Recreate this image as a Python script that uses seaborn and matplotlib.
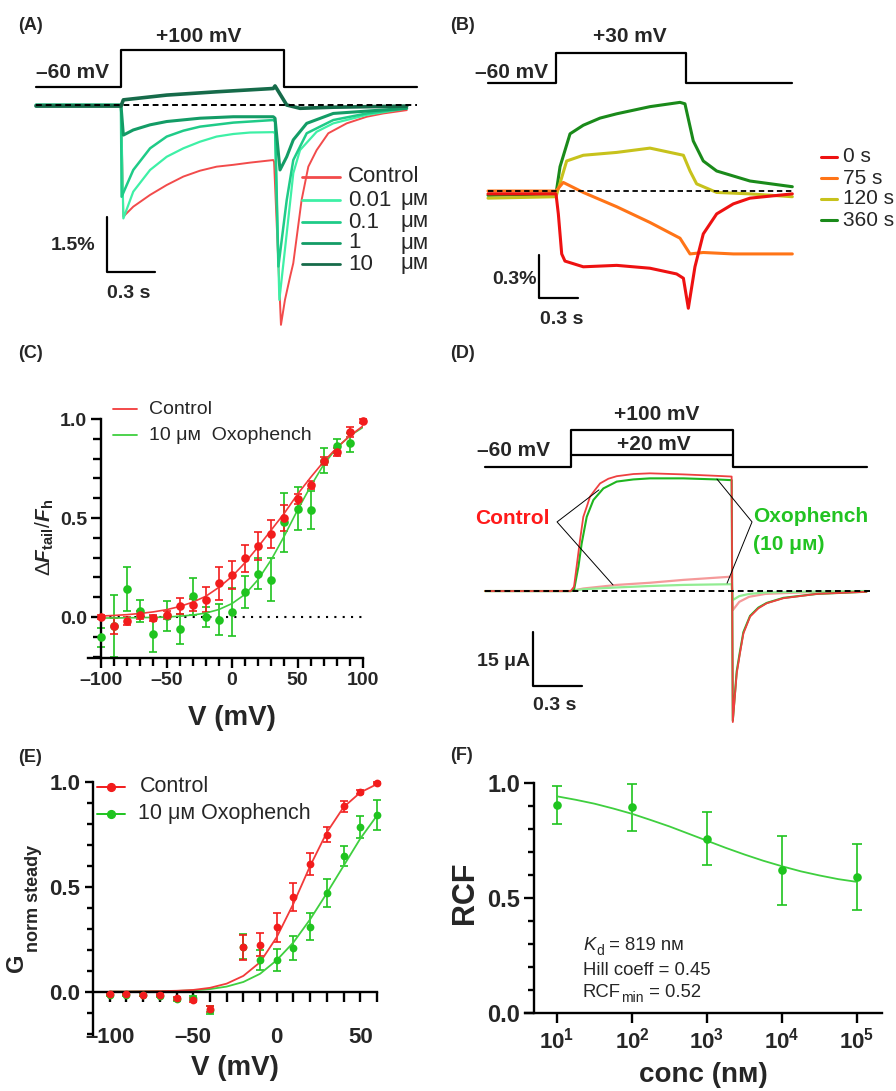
import numpy as np
import matplotlib
matplotlib.use("Agg")
import matplotlib.pyplot as plt
import matplotlib.transforms as mtransforms
from matplotlib.lines import Line2D
from matplotlib.ticker import FixedLocator, MultipleLocator, NullLocator
import seaborn as sns

# ---------------- data ----------------
# (A) fluorescence (%) vs time (s), +100 mV step, Oxophench doses
a_ctrl_t = [0, 0.531, 0.546, 0.608, 0.713, 0.817, 0.921, 1.025, 1.129, 1.233, 1.338, 1.483, 1.488,
            1.531, 1.556, 1.588, 1.608, 1.660, 1.702, 1.754, 1.827, 1.942, 2.067, 2.171, 2.317]
a_ctrl_v = [0, 0, -3.04, -2.77, -2.45, -2.18, -1.95, -1.79, -1.68, -1.63, -1.57, -1.50, -1.55,
            -5.99, -5.31, -4.68, -4.31, -2.59, -1.68, -1.23, -0.77, -0.50, -0.32, -0.23, -0.14]
a_001_t = [0, 0.531, 0.546, 0.608, 0.713, 0.817, 0.921, 1.025, 1.129, 1.233, 1.338, 1.483, 1.494,
           1.521, 1.567, 1.608, 1.650, 1.754, 1.858, 2.067, 2.317]
a_001_v = [0, 0, -3.09, -2.36, -1.77, -1.41, -1.18, -1.00, -0.86, -0.79, -0.75, -0.74, -0.77,
           -5.31, -3.50, -1.86, -1.23, -0.73, -0.50, -0.27, -0.09]
a_01_t = [0, 0.531, 0.535, 0.608, 0.713, 0.817, 0.921, 1.025, 1.233, 1.483, 1.494, 1.515, 1.567,
          1.608, 1.692, 1.858, 2.067, 2.317]
a_01_v = [0, 0, -2.50, -1.77, -1.18, -0.86, -0.70, -0.59, -0.48, -0.41, -0.45, -4.40, -2.59,
          -1.50, -0.77, -0.41, -0.23, -0.09]
a_1_t = [0, 0.531, 0.546, 0.608, 0.713, 0.817, 1.025, 1.233, 1.483, 1.494, 1.525, 1.567, 1.608,
         1.692, 1.858, 2.317]
a_1_v = [0, 0, -0.82, -0.68, -0.54, -0.45, -0.36, -0.32, -0.32, -0.36, -1.77, -1.41, -0.95,
         -0.50, -0.23, -0.09]
a_10_t = [0, 0.531, 0.546, 0.817, 1.129, 1.483, 1.494, 1.567, 1.650, 1.858, 2.317]
a_10_v = [-0.03, -0.03, 0.14, 0.27, 0.36, 0.45, 0.52, 0.0, -0.09, -0.06, -0.03]
a_labels = ["Control", "0.01", "0.1", "1", "10"]
a_step_t = [0, 0.531, 0.531, 1.552, 1.552, 2.38]
a_step_lvl = [0.49, 0.49, 1.5, 1.5, 0.49, 0.49]

# (B) fluorescence (%) vs time (s) at +30 mV, time after wash-in
b_0_t = [0, 0.523, 0.541, 0.567, 0.592, 0.733, 0.990, 1.246, 1.451, 1.503, 1.541, 1.592, 1.656,
         1.759, 1.887, 2.015, 2.341]
b_0_v = [-0.02, -0.02, -0.16, -0.44, -0.49, -0.53, -0.52, -0.54, -0.58, -0.61, -0.82, -0.53,
         -0.30, -0.16, -0.09, -0.05, -0.02]
b_75_t = [0, 0.523, 0.579, 0.733, 0.990, 1.246, 1.477, 1.554, 1.656, 1.887, 2.341]
b_75_v = [0.0, 0.0, 0.06, -0.01, -0.11, -0.22, -0.33, -0.44, -0.43, -0.44, -0.44]
b_120_t = [0, 0.523, 0.605, 0.733, 0.990, 1.246, 1.503, 1.554, 1.605, 1.759, 2.015, 2.341]
b_120_v = [-0.05, -0.04, 0.21, 0.25, 0.27, 0.30, 0.25, 0.14, 0.05, -0.01, -0.02, -0.04]
b_360_t = [0, 0.523, 0.554, 0.631, 0.733, 0.862, 0.990, 1.246, 1.477, 1.515, 1.579, 1.656, 1.759,
           2.015, 2.341]
b_360_v = [-0.03, -0.02, 0.17, 0.40, 0.46, 0.51, 0.54, 0.59, 0.62, 0.61, 0.35, 0.21, 0.14, 0.07, 0.03]
b_labels = ["0 s", "75 s", "120 s", "360 s"]
b_step_t = [0, 0.523, 0.523, 1.523, 1.523, 2.338]
b_step_lvl = [0.755, 0.755, 0.965, 0.965, 0.755, 0.755]

# (C) dF_tail/F_h vs V
c_volt = [-100, -90, -80, -70, -60, -50, -40, -30, -20, -10, 0, 10, 20, 30, 40, 50, 60, 70, 80, 90, 100]
c_ctrl = [0.00, -0.047, -0.022, 0.01, -0.005, 0.012, 0.054, 0.062, 0.088, 0.17, 0.212, 0.296, 0.357,
          0.421, 0.50, 0.596, 0.668, 0.788, 0.835, 0.936, 0.99]
c_ctrl_err = [0.01, 0.04, 0.02, 0.02, 0.015, 0.02, 0.04, 0.03, 0.065, 0.085, 0.07, 0.07, 0.07, 0.07,
              0.065, 0.025, 0.02, 0.02, 0.02, 0.025, 0.01]
c_oxo_volt = [-100, -90, -80, -70, -60, -50, -40, -30, -20, -10, 0, 10, 20, 30, 40, 50, 60, 70, 80, 90]
c_oxo = [-0.103, -0.045, 0.141, 0.03, -0.086, 0.005, -0.06, 0.104, 0.0, -0.013, 0.024, 0.125, 0.219,
         0.189, 0.478, 0.547, 0.539, 0.79, 0.865, 0.879]
c_oxo_err = [0.05, 0.155, 0.11, 0.055, 0.09, 0.075, 0.075, 0.095, 0.05, 0.077, 0.12, 0.08, 0.08, 0.11,
             0.15, 0.11, 0.095, 0.063, 0.035, 0.048]
c_fit_ctrl = [0.005, 0.008, 0.012, 0.018, 0.026, 0.037, 0.053, 0.075, 0.105, 0.15, 0.205, 0.275, 0.355,
              0.44, 0.525, 0.62, 0.705, 0.785, 0.855, 0.915, 0.965]
c_fit_oxo = [-0.005, -0.005, -0.004, -0.003, -0.002, 0.0, 0.004, 0.01, 0.02, 0.038, 0.068, 0.115, 0.19,
             0.29, 0.41, 0.54, 0.66, 0.77, 0.855, 0.915, 0.958]
c_xticks = [-100, -50, 0, 50, 100]
c_xticklabels = ["–100", "–50", "0", "50", "100"]

# (D) current (uA) vs time (s), +100 and +20 mV steps
d_c100_t = [0, 0.526, 0.546, 0.562, 0.583, 0.603, 0.624, 0.644, 0.675, 0.706, 0.757, 0.808, 0.910,
            1.012, 1.217, 1.421, 1.513, 1.520, 1.544, 1.564, 1.585, 1.626, 1.677, 1.728, 1.830, 2.035, 2.340]
d_c100_i = [0, 0, 1.2, 6.8, 14.2, 20.6, 23.4, 26.2, 28.1, 29.9, 31.2, 31.9, 32.5, 32.7, 32.4, 32.0,
            31.8, -36.4, -22.9, -17.3, -11.8, -7.1, -4.8, -3.4, -2.0, -0.8, -0.2]
d_o100_t = [0, 0.526, 0.546, 0.573, 0.593, 0.624, 0.665, 0.726, 0.808, 0.910, 1.012, 1.217, 1.421,
            1.513, 1.520, 1.544, 1.564, 1.585, 1.626, 1.677, 1.728, 1.830, 2.035, 2.340]
d_o100_i = [0, 0, 0.3, 6.8, 13.2, 20.6, 25.3, 28.5, 30.4, 31.0, 31.3, 31.3, 31.0, 30.8, -36.0, -22.3,
            -16.8, -11.4, -6.9, -4.6, -3.3, -1.9, -0.8, -0.2]
d_c20_t = [0, 0.526, 0.603, 0.808, 1.012, 1.217, 1.513, 1.520, 1.560, 1.620, 1.720, 1.930, 2.340]
d_c20_i = [0, 0, 0.7, 1.7, 2.3, 3.1, 4.0, -5.3, -3.0, -1.6, -0.8, -0.4, -0.1]
d_o20_t = [0, 0.526, 0.603, 0.808, 1.012, 1.217, 1.513, 1.520, 1.560, 1.620, 1.720, 1.930, 2.340]
d_o20_i = [0, 0, 0.5, 1.0, 1.4, 1.7, 1.9, -2.5, -1.4, -0.8, -0.4, -0.2, 0.0]
d_step_t = [0, 0.528, 0.528, 1.521, 1.521, 2.344]
d_step_lvl = [34.4, 34.4, 44.7, 44.7, 34.4, 34.4]
d_step20_lvl = 37.8

# (E) G_norm steady vs V
e_volt = [-100, -90, -80, -70, -60, -50, -40, -20, -10, 0, 10, 20, 30, 40, 50, 60]
e_ctrl = [-0.011, -0.011, -0.014, -0.016, -0.032, -0.04, -0.084, 0.212, 0.223, 0.306, 0.45, 0.61,
          0.748, 0.884, 0.954, 0.995]
e_ctrl_err = [0.005, 0.005, 0.005, 0.005, 0.008, 0.01, 0.015, 0.06, 0.055, 0.068, 0.066, 0.052,
              0.035, 0.026, 0.01, 0.005]
e_oxo = [-0.016, -0.016, -0.016, -0.019, -0.037, -0.032, -0.088, 0.215, 0.151, 0.151, 0.207, 0.31,
         0.47, 0.645, 0.785, 0.844]
e_oxo_err = [0.005, 0.005, 0.005, 0.005, 0.008, 0.01, 0.02, 0.06, 0.048, 0.053, 0.058, 0.064, 0.067,
             0.048, 0.054, 0.072]
e_fit_volt = [-100, -90, -80, -70, -60, -50, -40, -30, -20, -10, 0, 10, 20, 30, 40, 50, 60]
e_fit_ctrl = [0.0, 0.0, 0.001, 0.002, 0.004, 0.008, 0.018, 0.038, 0.075, 0.14, 0.26, 0.42, 0.60, 0.76,
              0.88, 0.95, 0.99]
e_fit_oxo = [0.0, 0.0, 0.001, 0.002, 0.003, 0.006, 0.012, 0.024, 0.046, 0.085, 0.15, 0.235, 0.345,
             0.47, 0.60, 0.73, 0.84]
e_xticks = [-100, -50, 0, 50]
e_xticklabels = ["–100", "–50", "0", "50"]

# (F) RCF vs concentration (nM)
f_conc = [1e1, 1e2, 1e3, 1e4, 1e5]
f_rcf = [0.906, 0.894, 0.758, 0.62, 0.591]
f_err = [0.083, 0.102, 0.114, 0.15, 0.142]
f_fit_logc = [1.0, 1.25, 1.5, 1.75, 2.0, 2.25, 2.5, 2.75, 3.0, 3.25, 3.5, 3.75, 4.0, 4.25, 4.5, 4.75, 5.0]
f_fit_rcf = [0.942, 0.927, 0.910, 0.889, 0.866, 0.839, 0.811, 0.780, 0.749, 0.718, 0.689, 0.662,
             0.638, 0.616, 0.598, 0.582, 0.570]
f_xticklabels = [r"$\mathbf{10^{1}}$", r"$\mathbf{10^{2}}$", r"$\mathbf{10^{3}}$",
                 r"$\mathbf{10^{4}}$", r"$\mathbf{10^{5}}$"]

# ---------------- style ----------------
sns.set_theme(style="ticks")
plt.rcParams["font.family"] = ["Liberation Sans", "DejaVu Sans"]
plt.rcParams["mathtext.fontset"] = "custom"
plt.rcParams["mathtext.rm"] = "Liberation Sans"
plt.rcParams["mathtext.it"] = "Liberation Sans:italic"
plt.rcParams["mathtext.bf"] = "Liberation Sans:bold"
if "mathtext.bfit" in plt.rcParams:
    plt.rcParams["mathtext.bfit"] = "Liberation Sans:bold:italic"

RED = "#f21c1c"
GREEN = "#1fc41f"
RED_FIT = "#f23a3a"
GREEN_FIT = "#3fcf3f"
A_COLORS = ["#f24b4b", "#3ef0a6", "#1fcb88", "#139c66", "#166b4a"]
B_COLORS = ["#ee1111", "#ff7417", "#c7c21c", "#1a8a1a"]

W, H = 896, 1091
fig = plt.figure(figsize=(W / 100, H / 100), dpi=100)
PX = mtransforms.Affine2D().scale(1 / W, -1 / H).translate(0, 1) + fig.transFigure


def axes_px(left, top, right, bottom):
    return fig.add_axes([left / W, 1 - bottom / H, (right - left) / W, (bottom - top) / H])


def label(x, y, s, size=14, weight="bold", **kw):
    kw.setdefault("va", "center")
    return fig.text(x, y, s, transform=PX, fontsize=size, fontweight=weight, **kw)


def key_line(x0, x1, y, color, lw=1.6, ms=None):
    fig.add_artist(Line2D([x0, x1], [y, y], transform=PX, color=color, lw=lw))
    if ms:
        fig.add_artist(Line2D([(x0 + x1) / 2], [y], transform=PX, color=color,
                              marker="o", ms=ms, lw=0))


def trace(ax, t, v, color, lw=1.5):
    sns.lineplot(x=t, y=v, color=color, linewidth=lw, estimator=None, sort=False, ax=ax)


def points(ax, x, y, err, color, ms=6.2, cap=3.2):
    ax.errorbar(x, y, yerr=err, fmt="none", ecolor=color, elinewidth=1.2, capsize=cap,
                capthick=1.2, zorder=2, clip_on=False)
    sns.scatterplot(x=x, y=y, color=color, s=ms ** 2, linewidth=0, zorder=3, clip_on=False, ax=ax)


def style_axis(ax, lw=1.7):
    for side in ["top", "right"]:
        ax.spines[side].set_visible(False)
    for side in ["left", "bottom"]:
        ax.spines[side].set_linewidth(lw)
        ax.spines[side].set_color("black")
    ax.tick_params(which="both", direction="out", width=lw, color="black", pad=3)
    ax.tick_params(which="major", length=7)
    ax.tick_params(which="minor", length=5.5)
    ax.set_facecolor("none")


# ---------------- (A) ----------------
axA = axes_px(20, 20, 440, 335)
axA.set_xlim(-0.1, 2.525)
axA.set_ylim(-6.267, 2.316)
axA.axis("off")
axA.plot(a_step_t, a_step_lvl, color="black", lw=1.6)
axA.plot([0, 2.38], [0, 0], color="black", lw=1.4, ls=(0, (3, 2)), zorder=5)
for t, v, c, lw in zip([a_ctrl_t, a_001_t, a_01_t, a_1_t, a_10_t],
                       [a_ctrl_v, a_001_v, a_01_v, a_1_v, a_10_v],
                       A_COLORS, [1.4, 1.6, 1.8, 2.2, 2.6]):
    trace(axA, t, v, c, lw)
axA.plot([0.444, 0.444, 0.744], [-3.05, -4.55, -4.55], color="black", lw=1.6)
label(18, 25, "(A)", 13)
label(199, 37, "+100 mV", 15, ha="center")
label(36, 72, "–60 mV", 15)
label(95, 246, "1.5%", 14, ha="right")
label(107, 294, "0.3 s", 14)
for i, (name, c) in enumerate(zip(a_labels, A_COLORS)):
    y = [177, 200, 222, 243, 264][i]
    key_line(302, 340, y, c, lw=2)
    label(348, y, name, 16, weight="normal")
    if i > 0:
        label(400, y, "μᴍ", 16, weight="normal")

# ---------------- (B) ----------------
axB = axes_px(470, 20, 810, 335)
axB.set_xlim(-0.1385, 2.477)
axB.set_ylim(-1.007, 1.196)
axB.axis("off")
axB.plot(b_step_t, b_step_lvl, color="black", lw=1.6)
for t, v, c in zip([b_360_t, b_120_t, b_75_t, b_0_t], [b_360_v, b_120_v, b_75_v, b_0_v],
                   B_COLORS[::-1]):
    trace(axB, t, v, c, 2.2)
axB.plot([0, 2.338], [0, 0], color="black", lw=1.3, ls=(0, (3, 2)), zorder=5)
axB.plot([0.392, 0.392, 0.692], [-0.448, -0.748, -0.748], color="black", lw=1.6)
label(450, 25, "(B)", 13)
label(630, 37, "+30 mV", 15, ha="center")
label(475, 73, "–60 mV", 15)
label(537, 280, "0.3%", 14, ha="right")
label(540, 320, "0.3 s", 14)
for i, (name, c) in enumerate(zip(b_labels, B_COLORS)):
    y = [157, 178, 199, 220][i]
    key_line(821, 837, y, c, lw=2.2)
    label(843, y, name, 15, weight="normal")

# ---------------- (C) ----------------
axC = axes_px(88, 419, 363, 658)
style_axis(axC)
axC.set_xlim(-110, 100)
axC.set_ylim(-0.207, 1.0)
axC.spines["left"].set_position(("data", -100))
axC.plot([-100, 100], [0, 0], color="black", lw=1.5, ls=(0, (1, 3)), zorder=1)
sns.lineplot(x=c_volt, y=c_fit_oxo, color=GREEN_FIT, linewidth=1.2, ax=axC, zorder=2.5)
sns.lineplot(x=c_volt, y=c_fit_ctrl, color=RED_FIT, linewidth=1.2, ax=axC, zorder=2.5)
points(axC, c_oxo_volt, c_oxo, c_oxo_err, GREEN)
points(axC, c_volt, c_ctrl, c_ctrl_err, RED)
axC.set_xticks(c_xticks, labels=c_xticklabels, fontsize=14, fontweight="bold")
axC.xaxis.set_minor_locator(FixedLocator(c_volt))
axC.set_yticks([0, 0.5, 1.0], labels=["0.0", "0.5", "1.0"], fontsize=14, fontweight="bold")
axC.yaxis.set_minor_locator(MultipleLocator(0.1))
label(18, 353, "(C)", 13)
key_line(113, 137, 409, RED_FIT, lw=1.3)
key_line(113, 137, 435, GREEN_FIT, lw=1.3)
label(149, 409, "Control", 14, weight="normal")
label(149, 435, "10 μᴍ  Oxophench", 14, weight="normal")
label(45, 537, r"$\Delta\mathbfit{F}_{\mathbf{tail}}/\mathbfit{F}_{\mathbf{h}}$", 15,
      rotation=90, ha="center")
label(232, 718, "V (mV)", 20, ha="center")

# ---------------- (D) ----------------
axD = axes_px(470, 370, 880, 730)
axD.set_xlim(-0.092, 2.423)
axD.set_ylim(-38.6, 61.4)
axD.axis("off")
axD.plot(d_step_t, d_step_lvl, color="black", lw=1.6)
axD.plot([d_step_t[1], d_step_t[3]], [d_step20_lvl, d_step20_lvl], color="black", lw=1.6)
trace(axD, d_c20_t, d_c20_i, "#f59a9a", 1.6)
trace(axD, d_o20_t, d_o20_i, "#92ec92", 1.6)
trace(axD, d_o100_t, d_o100_i, "#1fb51f", 1.5)
trace(axD, d_c100_t, d_c100_i, "#ee4040", 1.3)
axD.plot([0, 2.36], [0, 0], color="black", lw=1.4, ls=(0, (3, 2)), zorder=5)
axD.plot([0.294, 0.294, 0.594], [-11.4, -26.4, -26.4], color="black", lw=1.6)
axD.plot([0.699, 0.442, 0.785], [28.1, 19.2, 1.7], color="black", lw=0.7)
axD.plot([1.423, 1.638, 1.485], [31.1, 19.2, 2.2], color="black", lw=0.7)
label(450, 353, "(D)", 13)
label(657, 414, "+100 mV", 15, ha="center")
label(654, 444, "+20 mV", 15, ha="center")
label(477, 451, "–60 mV", 15)
label(550, 518, "Control", 15, ha="right", color="#ff1a1a")
label(753, 517, "Oxophench", 15, color="#22c322")
label(753, 545, "(10 μᴍ)", 15, color="#22c322")
label(530, 661, "15 μA", 14, ha="right")
label(533, 706, "0.3 s", 14)

# ---------------- (E) ----------------
axE = axes_px(93, 782, 377, 1035)
style_axis(axE)
axE.set_xlim(-110, 60)
axE.set_ylim(-0.207, 1.0)
axE.spines["bottom"].set_position(("data", 0))
sns.lineplot(x=e_fit_volt, y=e_fit_oxo, color=GREEN_FIT, linewidth=1.3, ax=axE, zorder=2.5)
sns.lineplot(x=e_fit_volt, y=e_fit_ctrl, color=RED_FIT, linewidth=1.3, ax=axE, zorder=2.5)
points(axE, e_volt, e_oxo, e_oxo_err, GREEN, ms=5.6)
points(axE, e_volt, e_ctrl, e_ctrl_err, RED, ms=5.6)
axE.set_xticks(e_xticks, labels=e_xticklabels, fontsize=16, fontweight="bold")
axE.xaxis.set_minor_locator(FixedLocator(e_fit_volt))
axE.tick_params(axis="x", which="both", length=7.5, pad=18)
axE.set_yticks([0, 0.5, 1.0], labels=["0.0", "0.5", "1.0"], fontsize=16, fontweight="bold")
axE.yaxis.set_minor_locator(MultipleLocator(0.1))
axE.tick_params(axis="y", which="major", length=6)
axE.tick_params(axis="y", which="minor", length=4.5)
label(18, 757, "(E)", 13)
key_line(97, 125, 787, RED, lw=1.4, ms=5.6)
key_line(97, 125, 814, GREEN, lw=1.4, ms=5.6)
label(140, 787, "Control", 15.5, weight="normal")
label(138, 814, "10 μᴍ Oxophench", 15.5, weight="normal")
label(17, 963, "G", 17, rotation=90, ha="center")
label(33, 898, "norm steady", 13, rotation=90, ha="center")
label(235, 1068, "V (mV)", 20, ha="center")

# ---------------- (F) ----------------
axF = axes_px(525, 783, 882, 1013)
style_axis(axF)
axF.set_xscale("log")
axF.set_xlim(10 ** 0.573, 10 ** 5.333)
axF.set_ylim(0, 1.0)
axF.spines["left"].set_position(("data", 10 ** 0.693))
sns.lineplot(x=[10 ** v for v in f_fit_logc], y=f_fit_rcf, color=GREEN_FIT, linewidth=1.3,
             ax=axF, zorder=2.5)
points(axF, f_conc, f_rcf, f_err, GREEN, ms=6.2, cap=3.6)
axF.set_xticks(f_conc, labels=f_xticklabels, fontsize=16)
axF.xaxis.set_minor_locator(NullLocator())
axF.tick_params(axis="x", which="major", length=7.5)
axF.set_yticks([0, 0.5, 1.0], labels=["0.0", "0.5", "1.0"], fontsize=17, fontweight="bold")
axF.yaxis.set_minor_locator(MultipleLocator(0.1))
axF.tick_params(axis="y", which="minor", length=4.5)
label(450, 755, "(F)", 13)
label(465, 893, "RCF", 22, rotation=90, ha="center")
label(703, 1075, "conc (nᴍ)", 20, ha="center")
k = label(583, 950, "K", 13.3, weight="normal", style="italic", va="baseline")
kd = axF.annotate("d", xy=(1, 0), xycoords=k, xytext=(0.5, -3), textcoords="offset points",
                  fontsize=10, va="bottom")
axF.annotate(" = 819 nᴍ", xy=(1, 0), xycoords=(kd, k), fontsize=13.3, va="bottom")
label(583, 975, "Hill coeff = 0.45", 13.3, weight="normal", va="baseline")
r = label(583, 997, "RCF", 13.3, weight="normal", va="baseline")
rm = axF.annotate("min", xy=(1, 0), xycoords=r, xytext=(0, -3), textcoords="offset points",
                  fontsize=10, va="bottom")
axF.annotate(" = 0.52", xy=(1, 0), xycoords=(rm, r), fontsize=13.3, va="bottom")

fig.savefig("out.png", dpi=100)
